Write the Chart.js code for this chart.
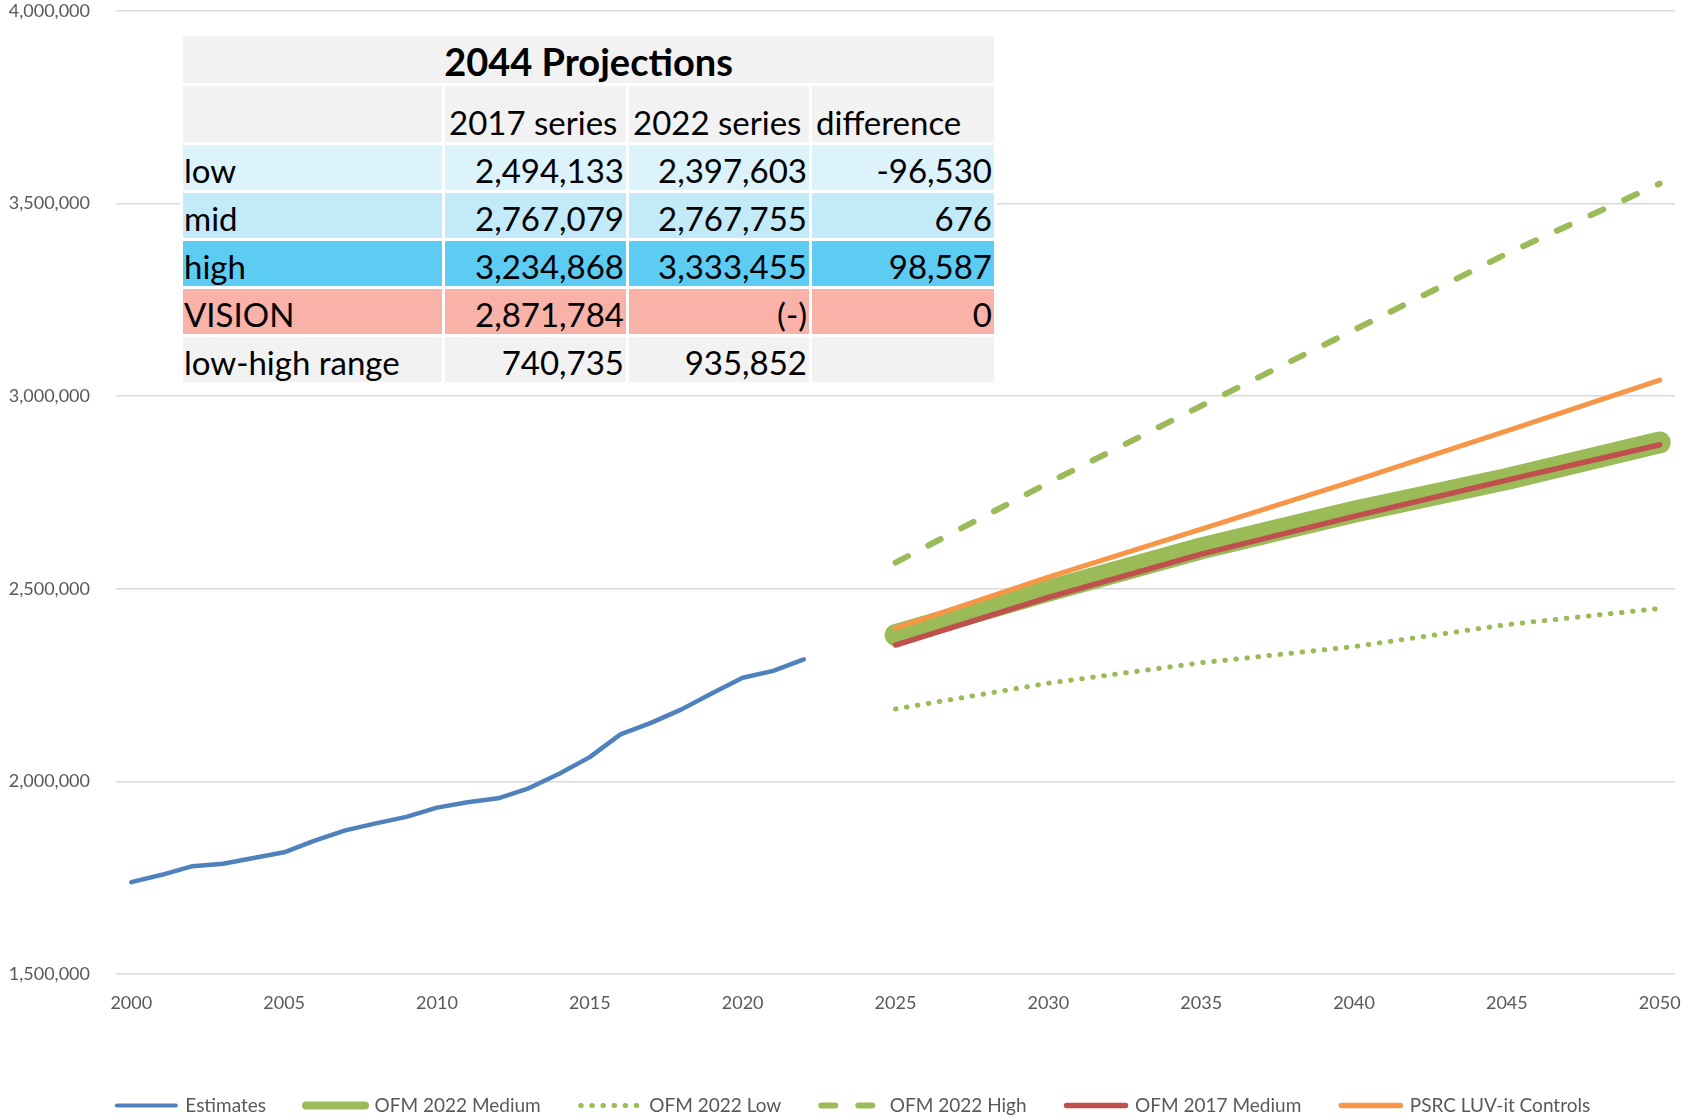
<!DOCTYPE html>
<html>
<head>
<meta charset="utf-8">
<title>2044 Projections</title>
<script src="https://cdn.jsdelivr.net/npm/chart.js@4.4.0/dist/chart.umd.min.js"></script>
<style>
    html, body { margin: 0; padding: 0; background: #fff; }
    #wrap { position: relative; width: 1688px; height: 1117px; }
    #popChart { position: absolute; left: 0; top: 0; }
    #projTable {
        position: absolute; left: 180px; top: 33px;
        border-collapse: separate; border-spacing: 3px;
        table-layout: fixed; background: #fff;
        font-family: Lato, "Open Sans", sans-serif; font-size: 33px; color: #000;
    }
    #projTable td { padding: 0 2px 3px 2px; line-height: 1; vertical-align: bottom; white-space: nowrap; overflow: hidden; }
    #projTable .title td { height: 44px; background: #F2F2F2; text-align: center; font-weight: 700; font-size: 38px; }
    #projTable .head td { height: 53px; background: #F2F2F2; text-align: left; padding-left: 4px; }
    #projTable .row td { height: 42px; text-align: right; }
    #projTable .row td:first-child { text-align: left; padding-left: 1px; }
</style>
</head>
<body>
<div id="wrap">
    <canvas id="popChart" width="1688" height="1117"></canvas>
    <table id="projTable">
        <colgroup><col style="width:259px"><col style="width:181px"><col style="width:180px"><col style="width:182px"></colgroup>
        <tbody id="tableBody"></tbody>
    </table>
</div>
<script>
// Category axis (years)
const years = [2000, 2001, 2002, 2003, 2004, 2005, 2006, 2007, 2008, 2009,
    2010, 2011, 2012, 2013, 2014, 2015, 2016, 2017, 2018, 2019,
    2020, 2021, 2022, 2023, 2024, 2025, 2026, 2027, 2028, 2029,
    2030, 2031, 2032, 2033, 2034, 2035, 2036, 2037, 2038, 2039,
    2040, 2041, 2042, 2043, 2044, 2045, 2046, 2047, 2048, 2049, 2050];

// Estimates 2000-2022
const estimateYears = [2000, 2001, 2002, 2003, 2004, 2005, 2006, 2007, 2008, 2009, 2010, 2011,
    2012, 2013, 2014, 2015, 2016, 2017, 2018, 2019, 2020, 2021, 2022];
const estimates = [1738500, 1757500, 1780000, 1786000, 1801000, 1816000, 1846000, 1873000,
    1891000, 1908000, 1932000, 1946000, 1956000, 1982000, 2020000, 2063000, 2122000,
    2152000, 2187000, 2229000, 2269000, 2287000, 2317000];

// Projections, read at 5-year steps
const projYears = [2025, 2030, 2035, 2040, 2045, 2050];
const ofm2022Medium = [2380000, 2495000, 2605000, 2700000, 2785000, 2880000];
const ofm2022Low = [2188000, 2255000, 2308000, 2350000, 2407000, 2449000];
const ofm2022High = [2568000, 2775000, 2975000, 3172000, 3370000, 3552000];
const ofm2017Medium = [2354000, 2478000, 2590000, 2688000, 2782000, 2874000];
const psrcControls = [2398000, 2530000, 2655000, 2780000, 2910000, 3042000];

// Table values
const tableTitle = '2044 Projections';
const tableHeader = ['', '2017 series', '2022 series', 'difference'];
const tableRowNames = ['low', 'mid', 'high', 'VISION', 'low-high range'];
const series2017 = ['2,494,133', '2,767,079', '3,234,868', '2,871,784', '740,735'];
const series2022 = ['2,397,603', '2,767,755', '3,333,455', '(-)', '935,852'];
const seriesDiff = ['-96,530', '676', '98,587', '0', ''];
const rowColors = ['#DDF3FB', '#C2EAF8', '#5DCCF3', '#F8B2A7', '#F2F2F2'];

const legendLineWidths = [4, 8, 5, 6, 5.5, 5.5];

function toPoints(xs, ys) {
    return ys.map((v, i) => ({ x: String(xs[i]), y: v }));
}

function buildTable() {
    const body = document.getElementById('tableBody');
    let html = `<tr class="title"><td colspan="4">${tableTitle}</td></tr>`;
    html += '<tr class="head">' + tableHeader.map(h => `<td>${h}</td>`).join('') + '</tr>';
    tableRowNames.forEach((name, i) => {
        const bg = rowColors[i];
        html += `<tr class="row">
            <td style="background:${bg}">${name}</td>
            <td style="background:${bg}">${series2017[i]}</td>
            <td style="background:${bg}">${series2022[i]}</td>
            <td style="background:${bg}">${seriesDiff[i]}</td></tr>`;
    });
    body.innerHTML = html;
}

// legend sits a little right of the canvas centre in the original
const legendNudge = {
    id: 'legendNudge',
    afterLayout(chart) {
        chart.legend.left += 12;
        chart.legend.right += 12;
    }
};

function initChart() {
    const ctx = document.getElementById('popChart').getContext('2d');
    const baseLine = { pointRadius: 0, pointHoverRadius: 0, borderCapStyle: 'round', borderJoinStyle: 'round', tension: 0, fill: false };

    new Chart(ctx, {
        type: 'line',
        plugins: [legendNudge],
        data: {
            labels: years.map(String),
            datasets: [
                { ...baseLine, label: 'Estimates', data: toPoints(estimateYears, estimates), borderColor: '#4F81BD', borderWidth: 4.5 },
                { ...baseLine, label: 'OFM 2022 Medium', data: toPoints(projYears, ofm2022Medium), borderColor: '#9BBB59', borderWidth: 22, order: 1 },
                { ...baseLine, label: 'OFM 2022 Low', data: toPoints(projYears, ofm2022Low), borderColor: '#9BBB59', borderWidth: 5, borderDash: [0.5, 10.6] },
                { ...baseLine, label: 'OFM 2022 High', data: toPoints(projYears, ofm2022High), borderColor: '#9BBB59', borderWidth: 6, borderDash: [14, 23] },
                { ...baseLine, label: 'OFM 2017 Medium', data: toPoints(projYears, ofm2017Medium), borderColor: '#C0504D', borderWidth: 5.5 },
                { ...baseLine, label: 'PSRC LUV-it Controls', data: toPoints(projYears, psrcControls), borderColor: '#F79646', borderWidth: 5 }
            ]
        },
        options: {
            responsive: false,
            animation: false,
            layout: { padding: { left: 8, right: 13, top: 2, bottom: 0 } },
            scales: {
                x: {
                    type: 'category',
                    offset: true,
                    grid: { display: false, drawTicks: false },
                    border: { display: false },
                    ticks: {
                        autoSkip: false, maxRotation: 0, padding: 18,
                        color: '#595959', font: { family: 'Lato', size: 18 },
                        callback: function (val) {
                            const lab = this.getLabelForValue(val);
                            return Number(lab) % 5 === 0 ? lab : '';
                        }
                    },
                    afterFit: (scale) => {
                        scale.height = 82;
                        scale.paddingLeft = 0;
                        scale.paddingRight = 0;
                    }
                },
                y: {
                    min: 1500000, max: 4000000,
                    grid: { color: '#D9D9D9', lineWidth: 1.5, drawTicks: false },
                    border: { display: false },
                    ticks: {
                        stepSize: 500000, padding: 26,
                        color: '#595959', font: { family: 'Lato', size: 18 },
                        callback: (v) => v.toLocaleString('en-US')
                    },
                    afterFit: (scale) => {
                        scale.width = 108;
                        scale.paddingTop = 11;
                        scale.paddingBottom = 11;
                    }
                }
            },
            plugins: {
                tooltip: { enabled: false },
                legend: {
                    position: 'bottom',
                    maxHeight: 61,
                    labels: {
                        usePointStyle: true,
                        pointStyle: 'line',
                        pointStyleWidth: 59,
                        padding: 40,
                        color: '#595959',
                        font: { family: 'Lato', size: 19 },
                        sort: (a, b) => a.datasetIndex - b.datasetIndex,
                        generateLabels: (chart) => {
                            const items = Chart.defaults.plugins.legend.labels.generateLabels(chart);
                            items.forEach(it => {
                                const ds = chart.data.datasets[it.datasetIndex];
                                it.lineWidth = legendLineWidths[it.datasetIndex];
                                it.lineDash = ds.borderDash || [];
                                it.lineCap = 'round';
                                it.strokeStyle = ds.borderColor;
                            });
                            return items;
                        }
                    }
                }
            }
        }
    });
}

buildTable();
initChart();
</script>
</body>
</html>
